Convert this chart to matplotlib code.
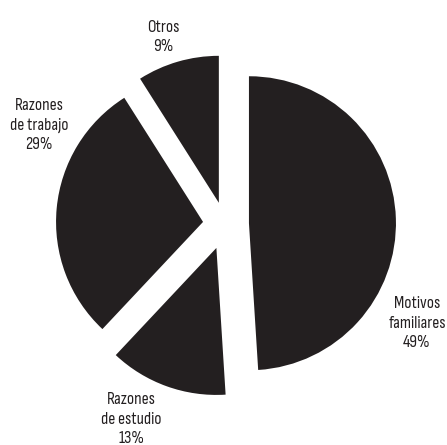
import matplotlib
matplotlib.use("Agg")
import matplotlib.pyplot as plt

categories = ["Motivos\nfamiliares", "Razones\nde estudio", "Razones\nde trabajo", "Otros"]
values = [49, 13, 29, 9]

explode = [0.163, 0.173, 0.15, 0.15]
label_px = [(417, 323), (131, 419), (39, 125), (163, 37)]

W, H = 447, 445
cx, cy, R = 225, 224, 147

fig = plt.figure(figsize=(W / 100, H / 100), dpi=100)
ax = fig.add_axes([0, 0, 1, 1])
ax.pie(values, explode=explode, startangle=90, counterclock=False,
       colors=["#231f20"] * len(values), radius=1,
       wedgeprops=dict(linewidth=0))
ax.set_xlim(-cx / R, (W - cx) / R)
ax.set_ylim(-(H - cy) / R, cy / R)
ax.set_aspect("auto")
ax.axis("off")

for cat, v, (px, py) in zip(categories, values, label_px):
    ax.text((px - cx) / R, (cy - py) / R, f"{cat}\n{v}%", ha="center", va="center",
            fontsize=12.5, color="#231f20", linespacing=1.4, fontweight="light",
            family=["Sofia Sans Condensed", "DejaVu Sans"])

fig.savefig("out.png", dpi=100)
